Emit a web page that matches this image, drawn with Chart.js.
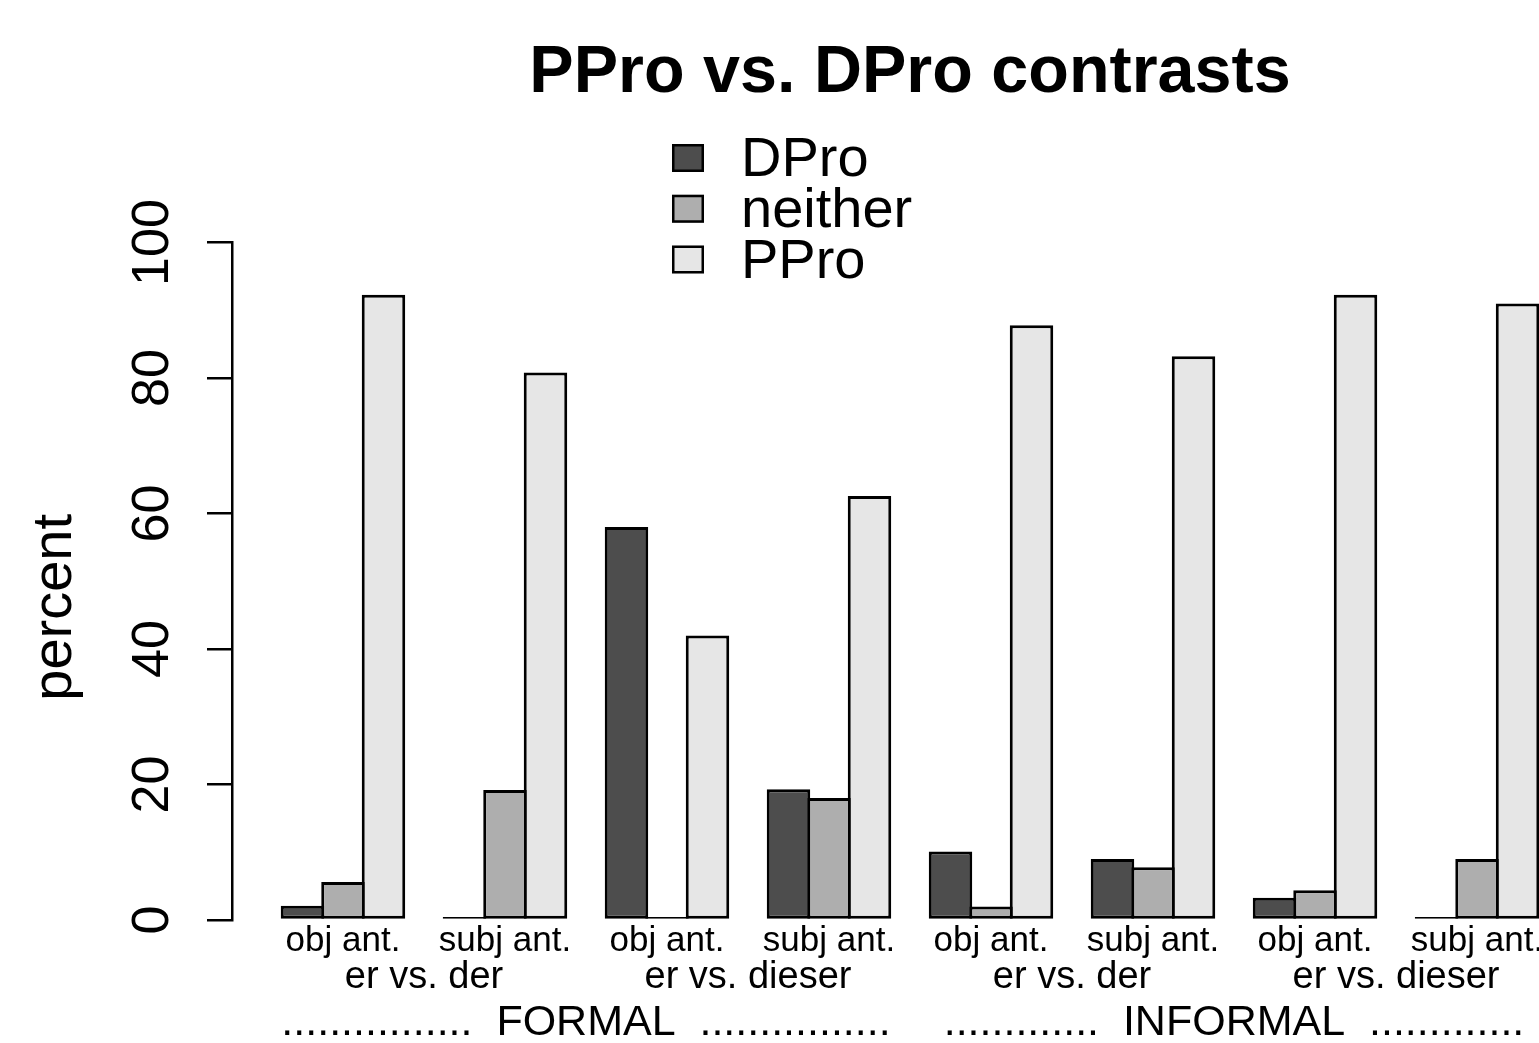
<!DOCTYPE html>
<html>
<head>
<meta charset="utf-8">
<script src="https://cdn.jsdelivr.net/npm/chart.js@4.4.1/dist/chart.umd.min.js"></script>
<style>
  html, body { margin: 0; padding: 0; background: #ffffff; overflow: hidden; }
  #wrap { width: 1539px; height: 1043px; overflow: hidden; position: relative; background: #ffffff; }
  canvas { display: block; }
</style>
</head>
<body>
<div id="wrap"><canvas id="chart" width="1588" height="1043"></canvas></div>
<script>
// ---------------- data ----------------
const chartTitle = 'PPro vs. DPro contrasts';
const yTitle = 'percent';
const groupLabels = ['obj ant.', 'subj ant.', 'obj ant.', 'subj ant.', 'obj ant.', 'subj ant.', 'obj ant.', 'subj ant.'];
const contrastLabels = ['er vs. der', 'er vs. dieser', 'er vs. der', 'er vs. dieser'];
const registerLabels = ['................  FORMAL  ................', '.............  INFORMAL  .............'];
const seriesNames = ['DPro', 'neither', 'PPro'];
const dproValues    = [2.1, 0, 58.0, 19.3, 10.1, 9.0, 3.3, 0];
const neitherValues = [5.6, 19.2, 0, 18.0, 2.0, 7.8, 4.4, 9.0];
const pproValues    = [92.3, 80.8, 42.0, 62.6, 87.8, 83.2, 92.3, 91.0];
const yTickValues = [0, 20, 40, 60, 80, 100];
const seriesColors = ['#4d4d4d', '#aeaeae', '#e6e6e6'];

// ---------------- derived ----------------
const FONT = '"Liberation Sans", Arial, Helvetica, sans-serif';
const valueSets = [dproValues, neitherValues, pproValues];
const groupPos = groupLabels.map((_, i) => i + 1);
function spanCenters(labels) {
  const span = groupLabels.length / labels.length;
  return labels.map((_, j) => j * span + (span + 1) / 2);
}
const contrastPos = spanCenters(contrastLabels);
const registerPos = spanCenters(registerLabels);
const xPad = 0.685; // R-style 4% range extension, in group units
const xMin = 1 - xPad, xMax = groupLabels.length + xPad;
const LW = 3;

function bottomAxis(positions, labels, size, height, pad, weight) {
  return {
    type: 'linear', position: 'bottom', min: xMin, max: xMax, offset: false, weight: weight,
    afterBuildTicks: (a) => { a.ticks = positions.map(v => ({ value: v })); },
    afterFit: (s) => { s.height = height; },
    grid: { display: false, drawTicks: false, offset: false },
    border: { display: false },
    ticks: {
      autoSkip: false, maxRotation: 0, minRotation: 0, padding: pad, color: '#000000',
      font: { family: FONT, size: size, lineHeight: 1 },
      callback: (v, i) => labels[i]
    }
  };
}

const extras = {
  id: 'extras',
  afterDraw(chart) {
    const ctx = chart.ctx;
    const yS = chart.scales.y;
    // y-axis title, centred on the data range like R's plot region
    const dataMax = Math.max(...valueSets.flat());
    const cy = yS.getPixelForValue(dataMax / 2);
    ctx.save();
    ctx.translate(56, cy);
    ctx.rotate(-Math.PI / 2);
    ctx.font = '56px ' + FONT;
    ctx.fillStyle = '#000000';
    ctx.textAlign = 'center';
    ctx.textBaseline = 'middle';
    ctx.fillText(yTitle, 0, 0);
    ctx.restore();
    // legend
    ctx.save();
    const legX = 672, legTop = 158, legRow = 50.75;
    chart.data.datasets.forEach((ds, i) => {
      const yc = legTop + i * legRow;
      ctx.fillStyle = ds.backgroundColor;
      ctx.fillRect(legX, yc - 14, 32, 28);
      ctx.lineWidth = 2.5;
      ctx.strokeStyle = '#000000';
      ctx.strokeRect(legX + 1.25, yc - 12.75, 29.5, 25.5);
      ctx.fillStyle = '#000000';
      ctx.font = '56px ' + FONT;
      ctx.textAlign = 'left';
      ctx.textBaseline = 'middle';
      ctx.fillText(ds.label, 741, yc + 3);
    });
    ctx.restore();
  }
};

new Chart(document.getElementById('chart'), {
  type: 'bar',
  data: {
    datasets: seriesNames.map((name, s) => ({
      label: name,
      data: valueSets[s].map((v, i) => ({ x: groupPos[i], y: v })),
      backgroundColor: seriesColors[s],
      borderColor: '#000000',
      borderWidth: LW,
      borderSkipped: false,
      minBarLength: LW,
      clip: false,
      categoryPercentage: 0.75,
      barPercentage: (40.5 + LW) / 40.5,
      xAxisID: 'x',
      yAxisID: 'y'
    }))
  },
  options: {
    responsive: false,
    animation: false,
    devicePixelRatio: 1,
    layout: { autoPadding: false, padding: 0 },
    plugins: {
      legend: { display: false },
      tooltip: { enabled: false },
      title: {
        display: true, text: chartTitle, fullSize: false, color: '#000000',
        font: { family: FONT, size: 66.5, weight: 'bold', lineHeight: 1 },
        padding: { top: 40, bottom: 136 }
      }
    },
    scales: {
      x: bottomAxis(groupPos, groupLabels, 35, 40, 4, 0),
      x2: bottomAxis(contrastPos, contrastLabels, 38, 34, -1, 1),
      x3: bottomAxis(registerPos, registerLabels, 43, 49, 8, 2),
      y: {
        type: 'linear', position: 'left', min: 0, max: 100,
        afterBuildTicks: (a) => { a.ticks = yTickValues.map(v => ({ value: v })); },
        afterFit: (s) => { s.width = 232; },
        grid: { drawOnChartArea: false, drawTicks: true, tickLength: 25, tickWidth: 2.5, tickColor: '#000000', lineWidth: 2.5, color: '#000000' },
        border: { display: true, color: '#000000', width: 2.5 },
        ticks: {
          minRotation: 90, maxRotation: 90, crossAlign: 'center', padding: 10, color: '#000000',
          font: { family: FONT, size: 52, lineHeight: 1 }
        }
      }
    }
  },
  plugins: [extras]
});
</script>
</body>
</html>
